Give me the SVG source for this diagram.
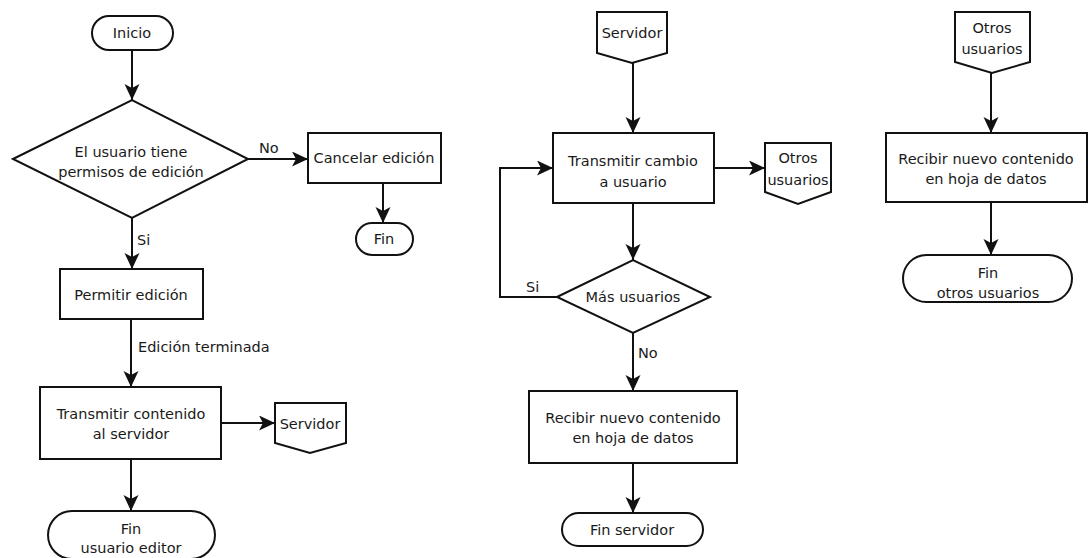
<svg xmlns="http://www.w3.org/2000/svg" width="1088" height="558" viewBox="0 0 1088 558">
<style>
.s{fill:#fff;stroke:#111;stroke-width:2}
.t{font-family:"DejaVu Sans",Verdana,sans-serif;font-size:14.5px;fill:#1a1a1a;text-anchor:middle}
.l{font-family:"DejaVu Sans",Verdana,sans-serif;font-size:14.5px;fill:#1a1a1a}
.c{fill:none;stroke:#111;stroke-width:2}
</style>
<defs>
<marker id="ah" markerUnits="userSpaceOnUse" markerWidth="17" markerHeight="16" refX="16" refY="7.5" orient="auto">
<path d="M0,0 L16,7.5 L0,15 L4,7.5 z" fill="#111"/>
</marker>
</defs>
<rect width="1088" height="558" fill="#fff"/>
<g id="connectors">
<path class="c" d="M132,50 V100" marker-end="url(#ah)"/>
<path class="c" d="M248,159 H308" marker-end="url(#ah)"/>
<path class="c" d="M383,183 V223" marker-end="url(#ah)"/>
<path class="c" d="M132,218 V269" marker-end="url(#ah)"/>
<path class="c" d="M131,319 V387" marker-end="url(#ah)"/>
<path class="c" d="M221,423 H275" marker-end="url(#ah)"/>
<path class="c" d="M131,459 V511" marker-end="url(#ah)"/>
<path class="c" d="M633,63 V133" marker-end="url(#ah)"/>
<path class="c" d="M714,168 H765" marker-end="url(#ah)"/>
<path class="c" d="M633,203 V260" marker-end="url(#ah)"/>
<path class="c" d="M557,297 H500 V168 H553" marker-end="url(#ah)"/>
<path class="c" d="M633,333 V391" marker-end="url(#ah)"/>
<path class="c" d="M633,463 V513" marker-end="url(#ah)"/>
<path class="c" d="M991,73 V133" marker-end="url(#ah)"/>
<path class="c" d="M991,202 V255" marker-end="url(#ah)"/>
<text class="l" x="259" y="153">No</text>
<text class="l" x="137" y="245">Si</text>
<text class="l" x="138" y="352">Edición terminada</text>
<text class="l" x="526" y="292">Si</text>
<text class="l" x="638" y="358">No</text>
</g>
<g id="inicio"><rect class="s" x="92" y="16" width="81" height="34" rx="17"/><text class="t" x="132" y="38">Inicio</text></g>
<g id="permisos"><polygon class="s" points="13,159 132,100 248,159 132,218"/><text class="t" x="131" y="157">El usuario tiene</text><text class="t" x="131" y="177">permisos de edición</text></g>
<g id="cancelar"><rect class="s" x="308" y="133" width="133" height="50"/><text class="t" x="374" y="163">Cancelar edición</text></g>
<g id="fin1"><rect class="s" x="356" y="223" width="57" height="32" rx="16"/><text class="t" x="384" y="244">Fin</text></g>
<g id="permitir"><rect class="s" x="60" y="269" width="143" height="50"/><text class="t" x="131" y="300">Permitir edición</text></g>
<g id="transmitir"><rect class="s" x="40" y="387" width="181" height="72"/><text class="t" x="131" y="419">Transmitir contenido</text><text class="t" x="131" y="439">al servidor</text></g>
<g id="servidor1"><polygon class="s" points="275,403 346,403 346,443 310,453 275,443"/><text class="t" x="310" y="429">Servidor</text></g>
<g id="finEditor"><rect class="s" x="48" y="511" width="167" height="48" rx="24"/><text class="t" x="131" y="534">Fin</text><text class="t" x="131" y="553">usuario editor</text></g>
<g id="servidor2"><polygon class="s" points="597,12 667,12 667,53 632,63 597,53"/><text class="t" x="632" y="38">Servidor</text></g>
<g id="transmitirCambio"><rect class="s" x="553" y="133" width="161" height="70"/><text class="t" x="633" y="166">Transmitir cambio</text><text class="t" x="633" y="187">a usuario</text></g>
<g id="otros1"><polygon class="s" points="765,143 831,143 831,192 798,204 765,192"/><text class="t" x="798" y="163">Otros</text><text class="t" x="798" y="185">usuarios</text></g>
<g id="masUsuarios"><polygon class="s" points="557,297 633,260 710,297 633,333"/><text class="t" x="633" y="302">Más usuarios</text></g>
<g id="recibir1"><rect class="s" x="529" y="391" width="208" height="72"/><text class="t" x="633" y="423">Recibir nuevo contenido</text><text class="t" x="633" y="443">en hoja de datos</text></g>
<g id="finServidor"><rect class="s" x="562" y="513" width="141" height="33" rx="16.5"/><text class="t" x="632" y="535">Fin servidor</text></g>
<g id="otros2"><polygon class="s" points="955,12 1030,12 1030,62 992,73 955,62"/><text class="t" x="992" y="33">Otros</text><text class="t" x="992" y="54">usuarios</text></g>
<g id="recibir2"><rect class="s" x="886" y="133" width="201" height="69"/><text class="t" x="986" y="164">Recibir nuevo contenido</text><text class="t" x="986" y="184">en hoja de datos</text></g>
<g id="finOtros"><rect class="s" x="903" y="255" width="169" height="47" rx="23.5"/><text class="t" x="988" y="278">Fin</text><text class="t" x="988" y="298">otros usuarios</text></g>
</svg>
